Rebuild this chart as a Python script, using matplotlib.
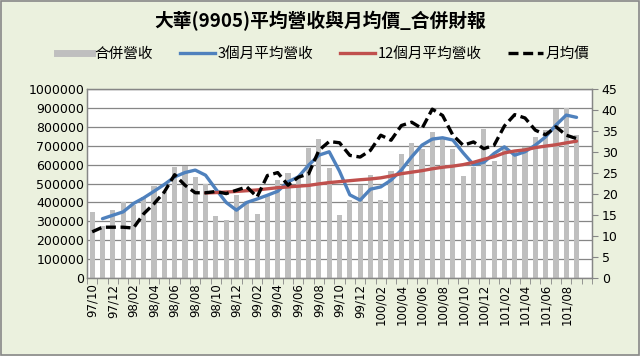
import matplotlib
matplotlib.use("Agg")
import matplotlib.pyplot as plt
import numpy as np
from matplotlib.lines import Line2D
from matplotlib.patches import Rectangle
from matplotlib.ticker import FuncFormatter

plt.rcParams['font.family'] = ['Noto Sans CJK TC', 'DejaVu Sans']

# months 97/10 .. 101/09
months = ["97/10", "97/11", "97/12", "98/01", "98/02", "98/03", "98/04", "98/05",
          "98/06", "98/07", "98/08", "98/09", "98/10", "98/11", "98/12", "99/01",
          "99/02", "99/03", "99/04", "99/05", "99/06", "99/07", "99/08", "99/09",
          "99/10", "99/11", "99/12", "100/01", "100/02", "100/03", "100/04", "100/05",
          "100/06", "100/07", "100/08", "100/09", "100/10", "100/11", "100/12", "101/01",
          "101/02", "101/03", "101/04", "101/05", "101/06", "101/07", "101/08", "101/09"]

revenue = [350000, 275000, 359000, 403000, 385000, 429000, 488000, 455000,
           588000, 594000, 535000, 500000, 329000, 309000, 440000, 410000,
           341000, 435000, 519000, 554000, 540000, 686000, 735000, 583000,
           332000, 415000, 491000, 544000, 412000, 565000, 654000, 712000,
           685000, 774000, 747000, 682000, 541000, 590000, 788000, 618000,
           690000, 665000, 694000, 747000, 782000, 894000, 901000, 756000]

avg3 = [np.nan, 314000, 332000, 350000, 394000, 424000, 459000, 495000,
        535000, 558000, 571000, 544000, 470000, 400000, 359000, 400000,
        418000, 438000, 459000, 509000, 535000, 597000, 650000, 668000,
        565000, 440000, 412000, 470000, 482000, 518000, 571000, 641000,
        703000, 735000, 742000, 730000, 662000, 600000, 612000, 659000,
        694000, 650000, 668000, 703000, 747000, 809000, 862000, 850000]

avg12 = [np.nan] * 11 + [450000, 452000, 455000, 458000, 462000,
        466000, 472000, 478000, 482000, 486000, 490000, 498000, 505000,
        510000, 515000, 520000, 524000, 530000, 540000, 552000, 560000,
        568000, 578000, 586000, 592000, 600000, 612000, 628000, 642000,
        662000, 672000, 678000, 690000, 698000, 705000, 715000, 724000]

price = [11.0, 12.1, 12.1, 12.1, 11.9, 15.3, 17.7, 20.5,
         24.6, 22.1, 20.3, 20.3, 20.6, 20.1, 20.9, 21.7,
         19.3, 24.4, 25.1, 22.1, 24.0, 24.8, 30.4, 32.5,
         32.2, 29.2, 28.8, 30.4, 34.0, 32.8, 36.3, 37.1,
         35.6, 40.2, 38.7, 34.0, 31.6, 32.4, 30.8, 31.6,
         36.2, 38.9, 38.1, 35.2, 34.1, 36.0, 34.0, 33.2]

bg = '#EBF1DE'
grid_c = '#868686'
dash = (0, (3.0, 1.4))

fig = plt.figure(figsize=(6.4, 3.56), dpi=100, facecolor=bg)
ax = fig.add_axes([0.136, 0.219, 0.789, 0.531])
ax2 = ax.twinx()

x = np.arange(len(months))
ax.bar(x, revenue, width=0.5, color='#BFBFBF', zorder=2)
ax.plot(x, avg3, color='#4F81BD', lw=2.4, zorder=3, solid_capstyle='round')
ax.plot(x, avg12, color='#C0504D', lw=2.4, zorder=3, solid_capstyle='round')
ax2.plot(x, price, color='black', lw=2.4, ls=dash)

ax.set_xlim(-0.5, len(months) + 0.5)
ax.set_ylim(0, 1000000)
ax2.set_ylim(0, 45)
ax.set_yticks(np.arange(0, 1000001, 100000))
ax.yaxis.set_major_formatter(FuncFormatter(lambda v, p: '%d' % v))
ax2.set_yticks(np.arange(0, 46, 5))
ax.yaxis.grid(True, color=grid_c, lw=0.9)
ax.set_axisbelow(True)

ax.set_xticks(x[::2])
ax.set_xticklabels(months[::2], rotation=90, fontsize=8.5, family='DejaVu Sans')
ax.set_xticks(np.arange(-0.5, len(months) + 1, 1), minor=True)
ax.tick_params(axis='x', which='major', length=0, pad=4)
ax.tick_params(axis='x', which='minor', length=4, color=grid_c)
ax.tick_params(axis='y', length=0, labelsize=9, pad=2)
ax2.tick_params(axis='y', length=4, color=grid_c, labelsize=9, pad=3)
for lab in ax.get_yticklabels() + ax2.get_yticklabels():
    lab.set_family('DejaVu Sans')

for a in (ax, ax2):
    for s in a.spines.values():
        s.set_color(grid_c)
        s.set_linewidth(0.9)

fig.text(0.5, 0.94, '大華(9905)平均營收與月均價_合併財報', ha='center', va='center',
         fontsize=13.5, fontweight='bold')

handles = [Line2D([], [], color='#BFBFBF', lw=5),
           Line2D([], [], color='#4F81BD', lw=2.4),
           Line2D([], [], color='#C0504D', lw=2.4),
           Line2D([], [], color='black', lw=2.4, ls=dash)]
labels = ['合併營收', '3個月平均營收', '12個月平均營收', '月均價']
fig.legend(handles, labels, loc='center', bbox_to_anchor=(0.505, 0.848), ncol=4,
           frameon=False, fontsize=10.5, handlelength=2.4, handletextpad=0.2,
           columnspacing=1.8)

fig.patches.append(Rectangle((0.002, 0.003), 0.996, 0.994, transform=fig.transFigure,
                             fill=False, edgecolor='#888888', lw=1.2))

fig.savefig('out.png', dpi=100, facecolor=bg)
